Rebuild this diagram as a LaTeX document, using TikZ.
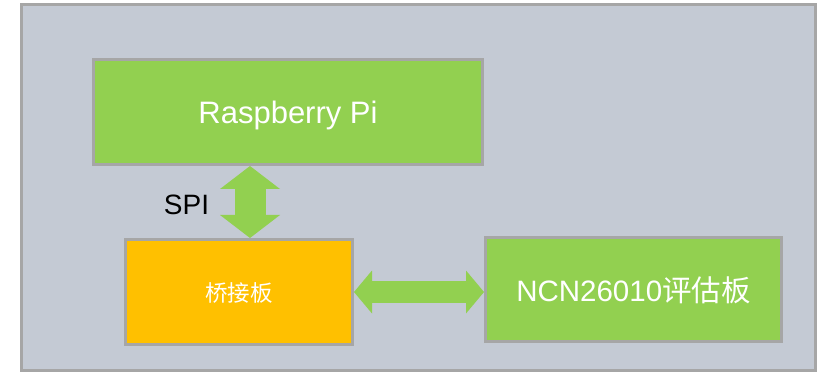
\documentclass[tikz,border=0pt]{standalone}
\usepackage{fontspec}
\setmainfont{Liberation Sans}
\newfontfamily\cjk{Noto Sans CJK SC}
\usetikzlibrary{arrows.meta,positioning}
\definecolor{cpanel}{HTML}{C4CAD4}
\definecolor{cedge}{HTML}{A6A6A6}
\definecolor{cgreen}{HTML}{92D050}
\definecolor{cgold}{HTML}{FFC000}
\tikzset{
  blk/.style={rectangle,draw=cedge,line width=3pt,fill=#1,text=white,
              inner sep=0pt,text depth=0pt,align=center},
  big/.style={font=\fontsize{#1}{36}\selectfont},
  vlink/.style={cgreen,line width=31pt,
                {Triangle[width=60pt,length=23pt,line width=0pt]}-{Triangle[width=60pt,length=23pt,line width=0pt]}},
  hlink/.style={cgreen,line width=22pt,
                {Triangle[width=43pt,length=18pt,line width=0pt]}-{Triangle[width=43pt,length=18pt,line width=0pt]}},
}
\begin{document}
\begin{tikzpicture}[x=1pt,y=-1pt]
\useasboundingbox (0,0) rectangle (819,374);

% panel
\draw[draw=cedge,fill=cpanel,line width=3pt] (21,5) rectangle (815,370);

\node[blk=cgreen,big=31,minimum width=389pt,minimum height=105pt] (pi) at (288,112) {Raspberry Pi};
\node[blk=cgold,minimum width=227pt,minimum height=105pt,font=\cjk\fontsize{22.5}{27}\selectfont] (bridge) at (239,292) {桥接板};
\node[blk=cgreen,big=29.5,minimum width=296pt,minimum height=104pt] (ncn) at (633.5,289) {NCN26010{\cjk 评估板}};

\coordinate (spix) at (250,0);
\draw[vlink] (pi.south -| spix) -- (bridge.north -| spix);
\draw[hlink] (bridge.east) -- (bridge.east -| ncn.west);

\node[font=\fontsize{28}{34}\selectfont] (spi) at (186.5,205) {SPI};

\end{tikzpicture}
\end{document}
